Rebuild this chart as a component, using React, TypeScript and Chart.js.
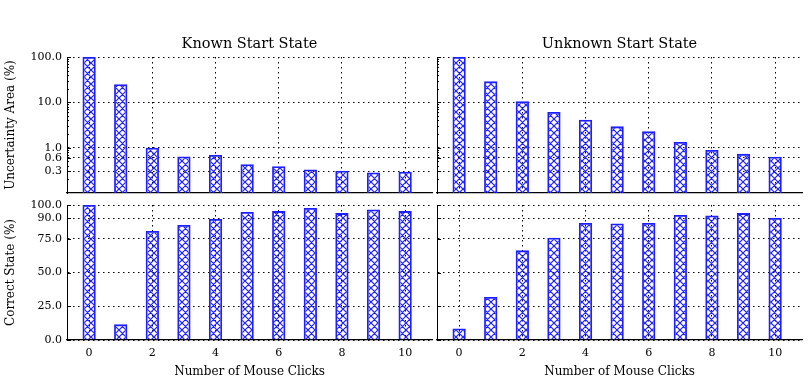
import React, { useEffect, useRef } from "react";
import { Chart, registerables } from "chart.js";
Chart.register(...registerables);

const clicks = [0, 1, 2, 3, 4, 5, 6, 7, 8, 9, 10];
const knownUncertainty = [100, 25, 1.0, 0.64, 0.69, 0.43, 0.39, 0.33, 0.31, 0.285, 0.295];
const unknownUncertainty = [100, 29, 10.5, 6.1, 4.15, 2.95, 2.29, 1.34, 0.89, 0.73, 0.63];
const knownCorrect = [100, 11.6, 80.7, 85.2, 89.6, 94.8, 95.5, 97.8, 94, 96.7, 95.5];
const unknownCorrect = [8.6, 31.9, 66.4, 75.8, 86.7, 86.3, 86.7, 92.6, 92.2, 94, 90.4];
const panelTitles = ["Known Start State", "Unknown Start State"];
const uncertaintyTitle = "Uncertainty Area (%)";
const correctTitle = "Correct State (%)";
const xTitle = "Number of Mouse Clicks";
const uncertaintyTicks = [100, 10, 1, 0.6, 0.3];
const uncertaintyMinor = [0.2, 0.4, 0.5, 0.7, 0.8, 0.9, 2, 3, 4, 5, 6, 7, 8, 9, 20, 30, 40, 50, 60, 70, 80, 90];
const correctTicks = [100, 90, 75, 50, 25, 0];
const clickTicks = [0, 2, 4, 6, 8, 10];

const FONT = '"DejaVu Serif", serif';
const BLUE = "rgb(30,30,255)";

function makePattern(): CanvasPattern | string {
  const c = document.createElement("canvas");
  const s = 7;
  c.width = s;
  c.height = s;
  const g = c.getContext("2d");
  if (!g) return BLUE;
  g.strokeStyle = BLUE;
  g.lineWidth = 1.2;
  g.beginPath();
  g.moveTo(0, 0);
  g.lineTo(s, s);
  g.moveTo(0, s);
  g.lineTo(s, 0);
  g.moveTo(-1, 1); g.lineTo(1, -1);
  g.moveTo(s - 1, s + 1); g.lineTo(s + 1, s - 1);
  g.moveTo(-1, s - 1); g.lineTo(1, s + 1);
  g.moveTo(s - 1, -1); g.lineTo(s + 1, 1);
  g.stroke();
  const p = g.createPattern(c, "repeat");
  return p || BLUE;
}

const decorPlugin = {
  id: "decor",
  afterDraw(chart: any, _args: any, opts: any) {
    const { ctx, chartArea } = chart;
    const y = chart.scales.y;
    ctx.save();
    ctx.strokeStyle = "#000";
    ctx.lineWidth = 1;
    const draw = (v: number, len: number) => {
      const py = Math.round(y.getPixelForValue(v)) + 0.5;
      ctx.beginPath();
      ctx.moveTo(chartArea.left, py);
      ctx.lineTo(chartArea.left + len, py);
      ctx.stroke();
    };
    (opts.major || []).forEach((v: number) => draw(v, 4));
    (opts.minor || []).forEach((v: number) => draw(v, 2));
    if (opts.title) {
      ctx.fillStyle = "#000";
      ctx.font = "14.5px " + FONT;
      ctx.textAlign = "center";
      ctx.textBaseline = "middle";
      ctx.fillText(opts.title, (chartArea.left + chartArea.right) / 2, opts.titleY);
    }
    ctx.restore();
  },
};

type PanelProps = {
  left: number;
  top: number;
  width: number;
  height: number;
  pad: { left: number; right: number; top: number; bottom: number };
  yWidth: number;
  xHeight: number;
  log: boolean;
  values: number[];
  showY: boolean;
  showX: boolean;
  title?: string;
  yTitle?: string;
};

function Panel(p: PanelProps) {
  const ref = useRef<HTMLCanvasElement>(null);
  useEffect(() => {
    if (!ref.current) return;
    const pattern = makePattern();
    const majorTicks = p.log ? uncertaintyTicks : correctTicks;
    const yCommon = {
      afterFit: (s: any) => {
        s.width = p.yWidth;
        s.paddingTop = 0;
        s.paddingBottom = 0;
        s.paddingLeft = 0;
        s.paddingRight = 0;
      },
      ticks: {
        display: p.showY,
        autoSkip: false,
        padding: 5,
        color: "#000",
        font: { family: FONT, size: 11 },
        callback: (v: any) => Number(v).toFixed(1),
      },
      grid: { color: "#000", lineWidth: 1, drawTicks: false },
      border: { display: true, color: "#000", width: 1, dash: [1.5, 3.5] },
      title: {
        display: !!p.yTitle,
        text: p.yTitle || "",
        color: "#000",
        font: { family: FONT, size: 12 },
        padding: { top: 4, bottom: 4 },
      },
    };
    const chart = new Chart(ref.current, {
      type: "bar",
      data: {
        datasets: [
          {
            data: clicks.map((x, i) => ({ x, y: p.values[i] })) as any,
            backgroundColor: pattern as any,
            borderColor: BLUE,
            borderWidth: 1.8,
            barPercentage: 0.42,
            categoryPercentage: 1,
          },
        ],
      },
      options: {
        animation: false,
        responsive: false,
        maintainAspectRatio: false,
        devicePixelRatio: 1,
        layout: { padding: p.pad },
        plugins: {
          legend: { display: false },
          tooltip: { enabled: false },
          decor: {
            major: majorTicks,
            minor: p.log ? uncertaintyMinor : [],
            title: p.title,
            titleY: 44,
          },
        } as any,
        scales: {
          x: {
            type: "linear",
            min: -0.7,
            max: 10.85,
            offset: false,
            afterBuildTicks: (s: any) => {
              s.ticks = clickTicks.map((v) => ({ value: v }));
            },
            afterFit: (s: any) => {
              s.height = p.xHeight;
              s.paddingLeft = 0;
              s.paddingRight = 0;
              s.paddingTop = 0;
              s.paddingBottom = 0;
            },
            ticks: {
              display: p.showX,
              autoSkip: false,
              maxRotation: 0,
              padding: 7,
              color: "#000",
              font: { family: FONT, size: 11 },
              callback: (v: any) => String(v),
            },
            grid: { color: "#000", lineWidth: 1, drawTicks: false, offset: false },
            border: { display: true, color: "#000", width: 1.2, dash: [1.5, 3.5] },
            title: {
              display: p.showX,
              text: xTitle,
              color: "#000",
              font: { family: FONT, size: 12 },
              padding: { top: 0, bottom: 6 },
            },
          },
          y: p.log
            ? {
                ...yCommon,
                type: "logarithmic",
                min: 0.1,
                max: 100,
                afterBuildTicks: (s: any) => {
                  s.ticks = uncertaintyTicks.map((v) => ({ value: v }));
                },
              }
            : {
                ...yCommon,
                type: "linear",
                min: 0,
                max: 100,
                afterBuildTicks: (s: any) => {
                  s.ticks = correctTicks.map((v) => ({ value: v }));
                },
              },
        } as any,
      },
      plugins: [decorPlugin as any],
    });
    return () => chart.destroy();
  }, []);
  return (
    <canvas
      ref={ref}
      width={p.width}
      height={p.height}
      style={{ position: "absolute", left: p.left, top: p.top, width: p.width, height: p.height }}
    />
  );
}

export default function App() {
  return (
    <div style={{ position: "fixed", left: 0, top: 0, width: 809, height: 385, background: "#fff", overflow: "hidden" }}>
      <Panel
        left={0} top={0} width={435} height={197}
        pad={{ left: 0, right: 3, top: 57, bottom: 4 }}
        yWidth={67} xHeight={0} log values={knownUncertainty}
        showY showX={false} title={panelTitles[0]} yTitle={uncertaintyTitle}
      />
      <Panel
        left={435} top={0} width={374} height={197}
        pad={{ left: 2, right: 7, top: 57, bottom: 4 }}
        yWidth={0} xHeight={0} log values={unknownUncertainty}
        showY={false} showX={false} title={panelTitles[1]}
      />
      <Panel
        left={0} top={197} width={435} height={188}
        pad={{ left: 0, right: 3, top: 8, bottom: 0 }}
        yWidth={67} xHeight={45} log={false} values={knownCorrect}
        showY showX yTitle={correctTitle}
      />
      <Panel
        left={435} top={197} width={374} height={188}
        pad={{ left: 2, right: 7, top: 8, bottom: 0 }}
        yWidth={0} xHeight={45} log={false} values={unknownCorrect}
        showY={false} showX
      />
    </div>
  );
}
